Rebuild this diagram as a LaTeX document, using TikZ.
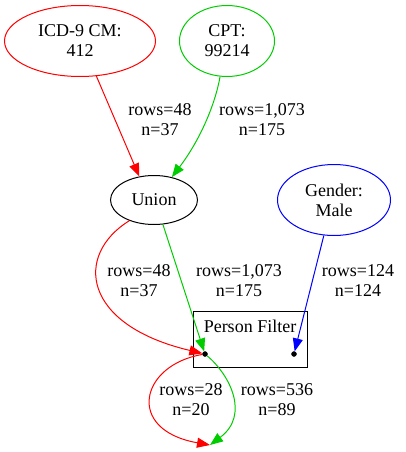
\documentclass[tikz,border=0pt]{standalone}
\usepackage{fontspec}
\setmainfont{Liberation Serif}
\usetikzlibrary{shapes.geometric, arrows.meta, positioning, calc}
\definecolor{codered}{RGB}{255,0,0}
\definecolor{codegreen}{RGB}{0,205,0}
\definecolor{codeblue}{RGB}{0,0,255}
\tikzset{
  criterion/.style={
    ellipse, draw=#1, line width=1pt,
    inner sep=0pt, align=center,
    font=\fontsize{18}{20}\selectfont
  },
  filterbox/.style={
    rectangle, draw=black, line width=1pt,
    minimum width=114pt, minimum height=56pt, inner sep=0pt
  },
  joint/.style={
    circle, fill=black, draw=black,
    minimum size=5pt, inner sep=0pt
  },
  flow/.style={
    -{Triangle[length=13pt, width=10pt, fill=#1]}, line width=1pt,
    draw=#1
  },
  count/.style={
    align=center, inner sep=0pt,
    font=\fontsize{18}{20}\selectfont
  }
}

\begin{document}
\begin{tikzpicture}[x=1pt, y=-1pt]

\useasboundingbox (0,0) rectangle (406,452);

% ═══════════════════════════════════════════════════════════════════
% SOURCE CRITERIA  (top)
% ═══════════════════════════════════════════════════════════════════

\node[criterion=codered, minimum width=151pt, minimum height=71pt]
  (icd) at (80,41) {ICD-9 CM:\\412};

\node[criterion=codegreen, minimum width=95pt, minimum height=71pt]
  (cpt) at (227,41) {CPT:\\99214};

% ═══════════════════════════════════════════════════════════════════
% UNION + GENDER  (middle)
% ═══════════════════════════════════════════════════════════════════

\node[criterion=black, minimum width=87pt, minimum height=49pt]
  (union) at (154,200) {Union};

\node[criterion=codeblue, minimum width=113pt, minimum height=71pt]
  (gender) at (334,200) {Gender:\\Male};

% ═══════════════════════════════════════════════════════════════════
% PERSON FILTER  (bottom)
% ═══════════════════════════════════════════════════════════════════

\node[filterbox] (filter) at (250,339) {};
\node[count, below=9pt of filter.north] (filtertitle) {Person Filter};

\node[joint] (pfin)  at (205,354) {};
\node[joint] (pgate) at (294,354) {};

\coordinate (result) at (210,445);

% ═══════════════════════════════════════════════════════════════════
% FLOWS
% ═══════════════════════════════════════════════════════════════════

% Criteria → Union
\draw[flow=codered]   (icd.-65) -- (union.122);
\draw[flow=codegreen] (cpt.-101)
  .. controls (215,105) and (200,140) .. (union.52);

% Union → Person Filter
\draw[flow=codered]   (union.-140)
  .. controls (74,255) and (82,325) .. (pfin);
\draw[flow=codegreen] (union.-70) -- (pfin);

% Gender → Person Filter
\draw[flow=codeblue]  (gender.-106) -- (pgate);

% Person Filter → result
\draw[flow=codered]   (pfin)
  .. controls (140,365) and (125,430) .. (result);
\draw[flow=codegreen] (pfin)
  .. controls (230,375) and (250,415) .. (result);

% ── counts ───────────────────────────────────────────────────────
\node[count] (cicd)    at (160,120) {rows=48\\n=37};
\node[count] (ccpt)    at (262,120) {rows=1,073\\n=175};
\node[count] (cured)   at (139,281) {rows=48\\n=37};
\node[count] (cugreen) at (239,281) {rows=1,073\\n=175};
\node[count] (cgender) at (358,281) {rows=124\\n=124};
\node[count] (cpred)   at (191,400) {rows=28\\n=20};
\node[count] (cpgreen) at (277,400) {rows=536\\n=89};

\end{tikzpicture}
\end{document}
